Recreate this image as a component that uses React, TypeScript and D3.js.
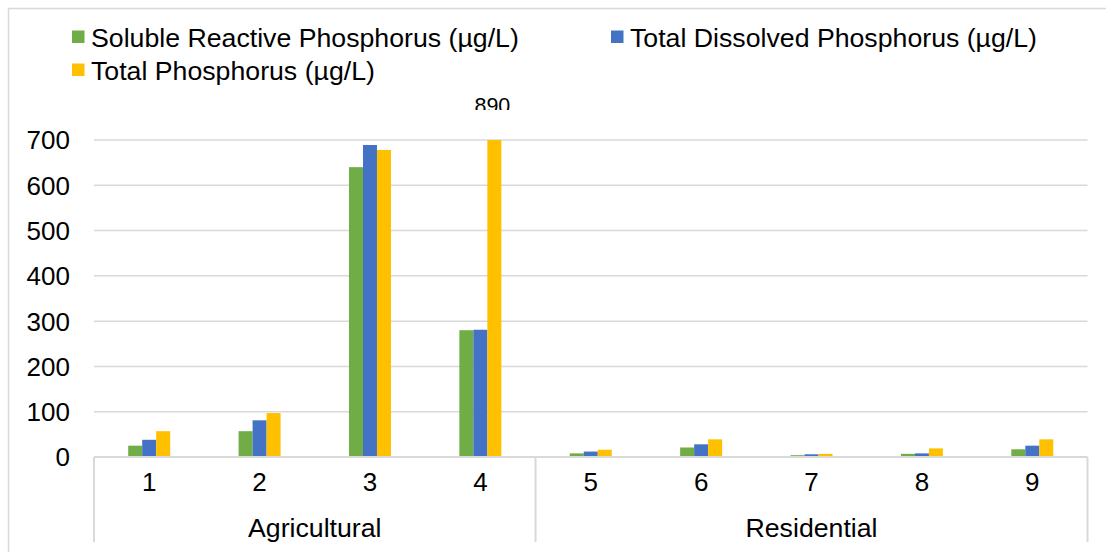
import React from "react";
import * as d3 from "d3";

const categories = ["1", "2", "3", "4", "5", "6", "7", "8", "9"];
const groups = [
  { name: "Agricultural", count: 4 },
  { name: "Residential", count: 5 },
];
const seriesNames = [
  "Soluble Reactive Phosphorus (µg/L)",
  "Total Dissolved Phosphorus (µg/L)",
  "Total Phosphorus (µg/L)",
];
const srp = [25, 57, 640, 280, 8, 21, 4, 7, 17];
const tdp = [38, 81, 689, 281, 12, 28, 6, 8, 25];
const tp = [57, 97, 678, 890, 16, 39, 7, 19, 39];
const seriesValues = [srp, tdp, tp];
const colors = ["#70AD47", "#4472C4", "#FFC000"];
const yTicks = [0, 100, 200, 300, 400, 500, 600, 700];

const W = 1106;
const H = 552;
const left = 94;
const right = 1087.5;
const top = 140;
const bottom = 457;
const grid = "#d9d9d9";
const font = "'Liberation Sans', Arial, sans-serif";

export default function App() {
  const x = d3.scaleBand<string>().domain(categories).range([left, right]).padding(0);
  const y = d3.scaleLinear().domain([0, 700]).range([bottom, top]);
  const barW = 14;
  const inner = d3
    .scaleBand<number>()
    .domain([0, 1, 2])
    .range([-1.5 * barW, 1.5 * barW])
    .padding(0);

  const bounds: { name: string; x0: number; x1: number }[] = [];
  let idx = 0;
  groups.forEach((g) => {
    const x0 = x(categories[idx]) as number;
    const x1 = (x(categories[idx + g.count - 1]) as number) + x.bandwidth();
    bounds.push({ name: g.name, x0, x1 });
    idx += g.count;
  });

  const maxV = y.domain()[1];
  const fs = 26.7;

  return (
    <svg
      width={W}
      height={H}
      style={{ position: "absolute", left: 0, top: 0, display: "block", background: "#fff" }}
    >
      <defs>
        <clipPath id="lblclip">
          <rect x={0} y={0} width={W} height={110} />
        </clipPath>
      </defs>
      <line x1={8} y1={8.5} x2={W} y2={8.5} stroke={grid} strokeWidth={1.5} />
      <line x1={8.5} y1={8} x2={8.5} y2={H} stroke={grid} strokeWidth={1.5} />

      {[
        { i: 0, sx: 72, ty: 37 },
        { i: 1, sx: 611, ty: 37 },
        { i: 2, sx: 72, ty: 70 },
      ].map(({ i, sx, ty }) => (
        <g key={i}>
          <rect x={sx} y={ty - 6.5} width={12.5} height={12.5} fill={colors[i]} />
          <text x={sx + 19} y={ty} dy="0.36em" fontFamily={font} fontSize={fs} fill="#000">
            {seriesNames[i]}
          </text>
        </g>
      ))}

      {yTicks.slice(1).map((t) => (
        <line key={t} x1={left} x2={right} y1={y(t)} y2={y(t)} stroke={grid} strokeWidth={1.5} />
      ))}

      {yTicks.map((t) => (
        <text
          key={t}
          x={70}
          y={y(t)}
          dy="0.36em"
          textAnchor="end"
          fontFamily={font}
          fontSize={26}
          fill="#000"
        >
          {t}
        </text>
      ))}

      {categories.map((c, ci) => {
        const cx = (x(c) as number) + x.bandwidth() / 2;
        return seriesValues.map((vals, si) => {
          const v = Math.min(vals[ci], maxV);
          return (
            <rect
              key={`${ci}-${si}`}
              x={cx + (inner(si) as number)}
              y={y(v)}
              width={inner.bandwidth()}
              height={bottom - y(v)}
              fill={colors[si]}
            />
          );
        });
      })}

      {categories.map((c, ci) => {
        if (tp[ci] <= maxV) return null;
        const cx =
          (x(c) as number) + x.bandwidth() / 2 + (inner(2) as number) + inner.bandwidth() / 2;
        return (
          <text
            key={`lbl-${ci}`}
            x={cx - 2}
            y={112.5}
            textAnchor="middle"
            fontFamily={font}
            fontSize={21.5}
            fill="#000"
            clipPath="url(#lblclip)"
          >
            {tp[ci]}
          </text>
        );
      })}

      <line x1={left} x2={right} y1={bottom} y2={bottom} stroke={grid} strokeWidth={2} />
      {[left, ...bounds.map((b) => b.x1)].map((bx, i) => (
        <line key={i} x1={bx} x2={bx} y1={bottom} y2={542} stroke={grid} strokeWidth={2} />
      ))}
      {categories.map((c) => (
        <text
          key={c}
          x={(x(c) as number) + x.bandwidth() / 2}
          y={482}
          dy="0.36em"
          textAnchor="middle"
          fontFamily={font}
          fontSize={26}
          fill="#000"
        >
          {c}
        </text>
      ))}
      {bounds.map((b) => (
        <text
          key={b.name}
          x={(b.x0 + b.x1) / 2}
          y={527}
          dy="0.36em"
          textAnchor="middle"
          fontFamily={font}
          fontSize={fs}
          fill="#000"
        >
          {b.name}
        </text>
      ))}
    </svg>
  );
}
